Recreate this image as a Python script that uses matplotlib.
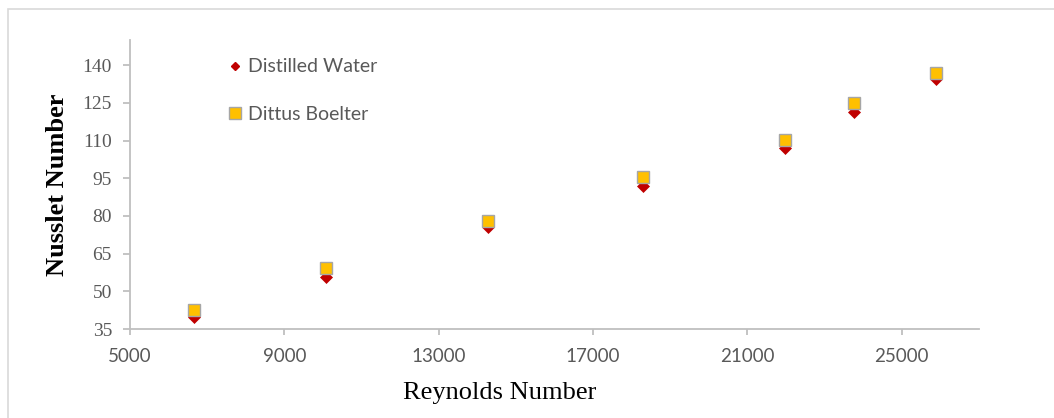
import matplotlib.pyplot as plt
from matplotlib.patches import Rectangle
from matplotlib.lines import Line2D

# Data
reynolds = [6650, 10090, 14270, 18300, 21980, 23770, 25890]
nu_water = [39.9, 55.8, 75.4, 92.0, 106.9, 121.4, 134.4]
nu_dittus = [42.5, 59.2, 78.0, 95.4, 110.4, 124.9, 136.8]
x_ticks = [5000, 9000, 13000, 17000, 21000, 25000]
y_ticks = [35, 50, 65, 80, 95, 110, 125, 140]

GREY_TXT = "#595959"
AXIS_GREY = "#BFBFBF"

fig = plt.figure(figsize=(10.54, 4.18), dpi=100)
ax = fig.add_axes([130 / 1054, 1 - 329 / 418, 849 / 1054, 289 / 418])

# outer chart border (runs off the right/bottom of the image)
fig.patches.append(Rectangle((8 / 1054, -0.05), 1.1, 0.05 + (418 - 9) / 418,
                             transform=fig.transFigure, fill=False,
                             edgecolor="#D9D9D9", linewidth=1.2))

ax.plot(reynolds, nu_water, linestyle="none", marker="D", markersize=6.2,
        color="#C00000", markeredgecolor="#C00000", markeredgewidth=0.5, zorder=3)
ax.plot(reynolds, nu_dittus, linestyle="none", marker="s", markersize=9.2,
        color="#FFC000", markeredgecolor="#A6A6A6", markeredgewidth=1.0, zorder=4)

ax.set_xlim(5000, 27000)
ax.set_ylim(35, 150)
ax.set_xticks(x_ticks)
ax.set_yticks(y_ticks)

for side in ("top", "right"):
    ax.spines[side].set_visible(False)
for side in ("left", "bottom"):
    ax.spines[side].set_color(AXIS_GREY)
    ax.spines[side].set_linewidth(1.3)

ax.tick_params(axis="both", color=AXIS_GREY, width=1.3, direction="out")
ax.tick_params(axis="y", length=5, pad=8, labelcolor=GREY_TXT)
ax.tick_params(axis="x", length=4, pad=10, labelcolor=GREY_TXT)
for lbl in ax.get_yticklabels():
    lbl.set_fontfamily("Liberation Serif")
    lbl.set_fontsize(14)
for lbl in ax.get_xticklabels():
    lbl.set_fontfamily("Lato")
    lbl.set_fontsize(13.5)

ax.set_xlabel("Reynolds Number", fontfamily="Liberation Serif", fontsize=19,
              color="black")
ax.xaxis.set_label_coords((500 - 130) / 849, -0.185)
ax.set_ylabel("Nusslet Number", fontfamily="Liberation Serif", fontsize=19,
              fontweight="bold", color="black", labelpad=10)

handles = [
    Line2D([], [], linestyle="none", marker="D", markersize=4.5,
           color="#C00000", markeredgecolor="#C00000"),
    Line2D([], [], linestyle="none", marker="s", markersize=8,
           color="#FFC000", markeredgecolor="#A6A6A6", markeredgewidth=1.0),
]
leg = ax.legend(handles, ["Distilled Water", "Dittus Boelter"], loc="upper left",
                bbox_to_anchor=(0.096, 0.997), frameon=False, handlelength=0.6,
                handletextpad=0.4, labelspacing=1.55,
                prop={"family": "Lato", "size": 14})
for t in leg.get_texts():
    t.set_color(GREY_TXT)

fig.savefig("out.png", dpi=100)
